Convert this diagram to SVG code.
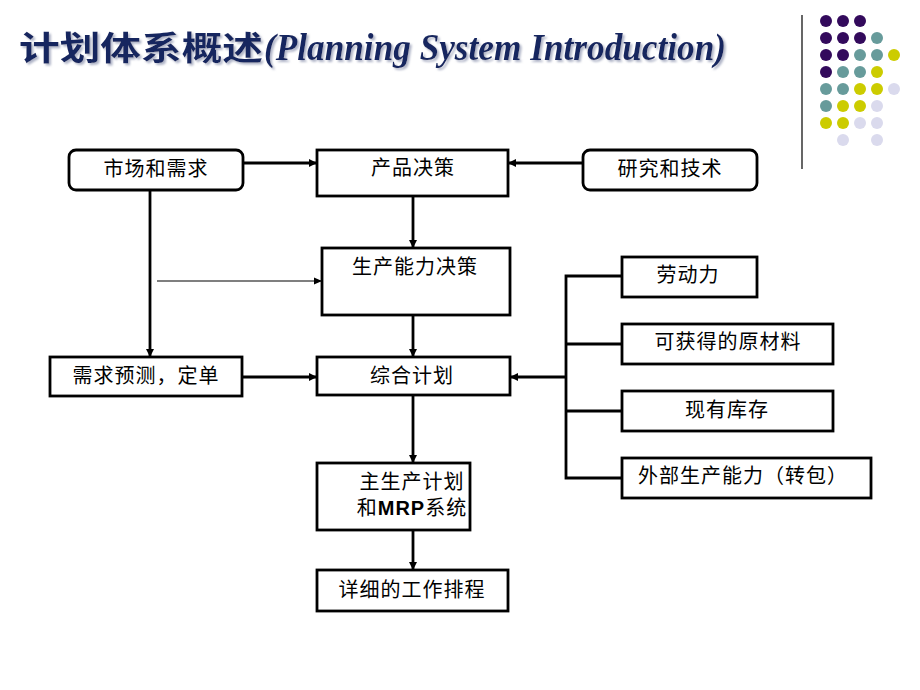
<svg xmlns="http://www.w3.org/2000/svg" width="920" height="690" viewBox="0 0 920 690">
<defs>
<marker id="ah" markerWidth="8" markerHeight="8" refX="7" refY="4" orient="auto" markerUnits="userSpaceOnUse"><path d="M0,0 L8,4 L0,8 Z" fill="#000"/></marker>
<marker id="ahs" markerWidth="8" markerHeight="8" refX="7" refY="4" orient="auto" markerUnits="userSpaceOnUse"><path d="M0,0.5 L8,4 L0,7.5 Z" fill="#000"/></marker>
<filter id="shadow" x="-5%" y="-20%" width="110%" height="150%"><feDropShadow dx="2" dy="2" stdDeviation="0.8" flood-color="#9aa0b8" flood-opacity="0.8"/></filter>
<style>
.box{fill:#fff;stroke:#000;stroke-width:2.8}
.t{font-family:"Noto Sans CJK SC","Noto Sans CJK TC",sans-serif;font-size:20px;fill:#000;text-anchor:middle;letter-spacing:1px}
.c{fill:none;stroke:#000;stroke-width:2.8}
.p{fill:#330a5c}.g{fill:#679b9b}.y{fill:#cccc00}.l{fill:#dadaed}
.ti{font-weight:bold;fill:#16255e}
</style>
</defs>
<rect width="920" height="690" fill="#fff"/>
<g id="title" filter="url(#shadow)">
<text class="ti" x="19" y="60" font-family="'Noto Sans CJK SC',sans-serif" font-size="33" font-weight="900" textLength="244" lengthAdjust="spacingAndGlyphs">计划体系概述</text>
<text class="ti" x="264" y="60" font-family="'Liberation Serif',serif" font-size="37" font-style="italic" textLength="462" lengthAdjust="spacingAndGlyphs">(Planning System Introduction)</text>
</g>
<g id="decoration">
<line x1="802" y1="15" x2="802" y2="169" stroke="#000" stroke-width="1.2"/>
<circle class="p" cx="826" cy="21" r="6"/><circle class="p" cx="843" cy="21" r="6"/><circle class="p" cx="860" cy="21" r="6"/>
<circle class="p" cx="826" cy="38" r="6"/><circle class="p" cx="843" cy="38" r="6"/><circle class="p" cx="860" cy="38" r="6"/><circle class="g" cx="877" cy="38" r="6"/>
<circle class="p" cx="826" cy="55" r="6"/><circle class="p" cx="843" cy="55" r="6"/><circle class="g" cx="860" cy="55" r="6"/><circle class="g" cx="877" cy="55" r="6"/><circle class="y" cx="894" cy="55" r="6"/>
<circle class="p" cx="826" cy="72" r="6"/><circle class="g" cx="843" cy="72" r="6"/><circle class="g" cx="860" cy="72" r="6"/><circle class="y" cx="877" cy="72" r="6"/>
<circle class="g" cx="826" cy="89" r="6"/><circle class="g" cx="843" cy="89" r="6"/><circle class="y" cx="860" cy="89" r="6"/><circle class="y" cx="877" cy="89" r="6"/><circle class="l" cx="894" cy="89" r="6"/>
<circle class="g" cx="826" cy="106" r="6"/><circle class="y" cx="843" cy="106" r="6"/><circle class="y" cx="860" cy="106" r="6"/><circle class="l" cx="877" cy="106" r="6"/>
<circle class="y" cx="826" cy="123" r="6"/><circle class="y" cx="843" cy="123" r="6"/><circle class="l" cx="860" cy="123" r="6"/><circle class="l" cx="877" cy="123" r="6"/>
<circle class="l" cx="843" cy="140" r="6"/><circle class="l" cx="877" cy="140" r="6"/>
</g>
<g id="connectors">
<line class="c" x1="243" y1="163" x2="316" y2="163" marker-end="url(#ah)"/>
<line class="c" x1="583" y1="163" x2="509" y2="163" marker-end="url(#ah)"/>
<line class="c" x1="413" y1="196" x2="413" y2="247" marker-end="url(#ah)"/>
<line class="c" x1="150" y1="190" x2="150" y2="356" marker-end="url(#ah)"/>
<line x1="157" y1="281" x2="321" y2="281" stroke="#000" stroke-width="1.2" marker-end="url(#ahs)"/>
<line class="c" x1="413" y1="315" x2="413" y2="356" marker-end="url(#ah)"/>
<line class="c" x1="242" y1="377" x2="316" y2="377" marker-end="url(#ah)"/>
<polyline class="c" points="622,276 566,276 566,478 622,478"/>
<line class="c" x1="566" y1="344" x2="622" y2="344"/>
<line class="c" x1="566" y1="411" x2="622" y2="411"/>
<line class="c" x1="566" y1="377" x2="511" y2="377" marker-end="url(#ah)"/>
<line class="c" x1="413" y1="395" x2="413" y2="462" marker-end="url(#ah)"/>
<line class="c" x1="413" y1="530" x2="413" y2="569" marker-end="url(#ah)"/>
</g>
<g id="market"><rect class="box" x="69" y="150" width="174" height="40" rx="7"/><text class="t" x="156" y="176">市场和需求</text></g>
<g id="product"><rect class="box" x="317" y="150" width="191" height="46"/><text class="t" x="413" y="175">产品决策</text></g>
<g id="research"><rect class="box" x="583" y="150" width="174" height="40" rx="7"/><text class="t" x="670" y="176">研究和技术</text></g>
<g id="capacity"><rect class="box" x="322" y="248" width="188" height="67"/><text class="t" x="415" y="274">生产能力决策</text></g>
<g id="forecast"><rect class="box" x="50" y="357" width="192" height="39"/><text class="t" x="146" y="383">需求预测，定单</text></g>
<g id="aggregate"><rect class="box" x="317" y="357" width="193" height="38"/><text class="t" x="412" y="383">综合计划</text></g>
<g id="labor"><rect class="box" x="622" y="257" width="135" height="40"/><text class="t" x="688" y="282">劳动力</text></g>
<g id="material"><rect class="box" x="622" y="324" width="211" height="40"/><text class="t" x="728" y="349">可获得的原材料</text></g>
<g id="inventory"><rect class="box" x="622" y="391" width="211" height="40"/><text class="t" x="727" y="417">现有库存</text></g>
<g id="external"><rect class="box" x="622" y="458" width="249" height="40"/><text class="t" x="743" y="483">外部生产能力（转包）</text></g>
<g id="mps"><rect class="box" x="317" y="463" width="153" height="67"/><text class="t" x="412" y="489">主生产计划<tspan x="412" dy="26">和</tspan><tspan font-family="'Liberation Sans',sans-serif" font-weight="bold">MRP</tspan>系统</text></g>
<g id="schedule"><rect class="box" x="317" y="570" width="191" height="41"/><text class="t" x="412" y="597">详细的工作排程</text></g>
</svg>
